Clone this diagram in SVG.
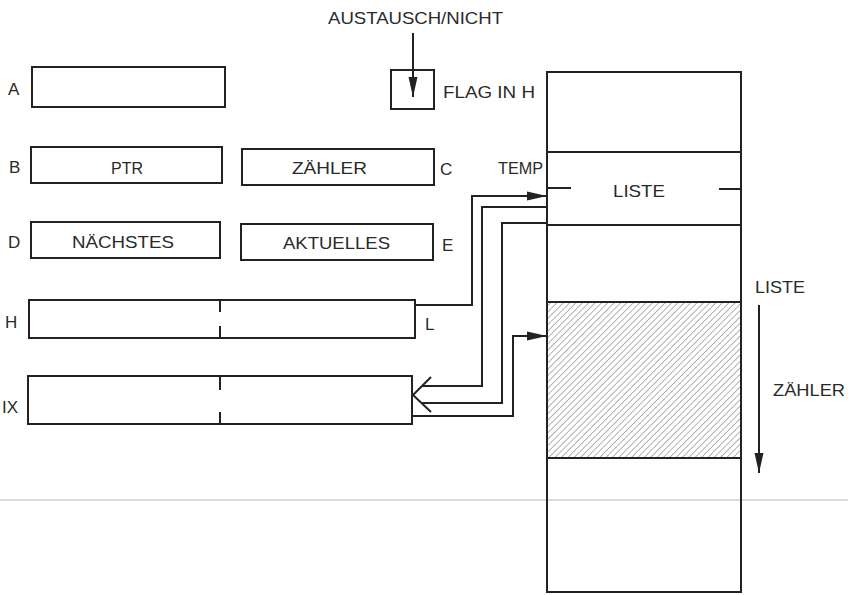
<svg xmlns="http://www.w3.org/2000/svg" width="848" height="595" viewBox="0 0 848 595">
<defs>
<style>
.bx{fill:none;stroke:#222;stroke-width:2}
.ln{fill:none;stroke:#222;stroke-width:2}
.t{font-family:"Liberation Sans",Arial,sans-serif;font-size:17px;fill:#2a2a2a}
</style>
<marker id="ah" markerUnits="userSpaceOnUse" markerWidth="20" markerHeight="10" refX="20" refY="5" orient="auto">
<path d="M0,0.5 L20,5 L0,9.5 z" fill="#222"/>
</marker>
<pattern id="hatch" patternUnits="userSpaceOnUse" width="4.5" height="4.5" patternTransform="rotate(45)">
<line x1="0" y1="0" x2="0" y2="4.5" stroke="#666" stroke-width="1"/>
</pattern>
</defs>
<rect width="848" height="595" fill="#fff"/>
<line x1="0" y1="500" x2="848" y2="500" stroke="#dcdcdc" stroke-width="2"/>

<g id="top-label">
<text class="t" x="328" y="24" textLength="175" lengthAdjust="spacingAndGlyphs">AUSTAUSCH/NICHT</text>
</g>
<g id="flag">
<rect class="bx" x="391" y="70" width="43" height="39"/>
<text class="t" x="443" y="98" textLength="92" lengthAdjust="spacingAndGlyphs">FLAG IN H</text>
</g>
<g id="reg-a">
<text class="t" x="8" y="95">A</text>
<rect class="bx" x="32" y="67" width="193" height="40"/>
</g>
<g id="reg-b">
<text class="t" x="9" y="173">B</text>
<rect class="bx" x="31" y="147" width="191" height="36"/>
<text class="t" x="111" y="174" textLength="32" lengthAdjust="spacingAndGlyphs">PTR</text>
</g>
<g id="reg-c">
<rect class="bx" x="242" y="149" width="192" height="36"/>
<text class="t" x="292" y="174" textLength="75" lengthAdjust="spacingAndGlyphs">ZÄHLER</text>
<text class="t" x="440" y="175">C</text>
</g>
<g id="reg-d">
<text class="t" x="8" y="248">D</text>
<rect class="bx" x="31" y="222" width="189" height="36"/>
<text class="t" x="72" y="248" textLength="102" lengthAdjust="spacingAndGlyphs">NÄCHSTES</text>
</g>
<g id="reg-e">
<rect class="bx" x="241" y="224" width="192" height="36"/>
<text class="t" x="283" y="249" textLength="107" lengthAdjust="spacingAndGlyphs">AKTUELLES</text>
<text class="t" x="442" y="251">E</text>
</g>
<g id="reg-hl">
<text class="t" x="5" y="328">H</text>
<rect class="bx" x="29" y="300" width="386" height="38"/>
<line class="ln" x1="220" y1="300" x2="220" y2="312"/>
<line class="ln" x1="220" y1="326" x2="220" y2="338"/>
<text class="t" x="425" y="330">L</text>
</g>
<g id="reg-ix">
<text class="t" x="2" y="413">IX</text>
<rect class="bx" x="28" y="376" width="384" height="48"/>
<line class="ln" x1="220" y1="376" x2="220" y2="390"/>
<line class="ln" x1="220" y1="412" x2="220" y2="424"/>
</g>
<g id="memory">
<rect x="547" y="302" width="194" height="156" fill="url(#hatch)"/>
<rect class="bx" x="547" y="72" width="194" height="520"/>
<line class="ln" x1="547" y1="152" x2="741" y2="152"/>
<line class="ln" x1="547" y1="225" x2="741" y2="225"/>
<line class="ln" x1="547" y1="302" x2="741" y2="302"/>
<line class="ln" x1="547" y1="458" x2="741" y2="458"/>
<line class="ln" x1="547" y1="188" x2="571" y2="188"/>
<line class="ln" x1="719" y1="189" x2="741" y2="189"/>
<text class="t" x="613" y="197" textLength="52" lengthAdjust="spacingAndGlyphs">LISTE</text>
<text class="t" x="498" y="174" textLength="45" lengthAdjust="spacingAndGlyphs">TEMP</text>
</g>
<g id="range">
<text class="t" x="755" y="293" textLength="50" lengthAdjust="spacingAndGlyphs">LISTE</text>
<text class="t" x="773" y="396" textLength="72" lengthAdjust="spacingAndGlyphs">ZÄHLER</text>
</g>
<g id="connectors">
<line class="ln" x1="413" y1="33" x2="413" y2="97" marker-end="url(#ah)"/>
<line class="ln" x1="759" y1="305" x2="759" y2="473" marker-end="url(#ah)"/>
<path class="ln" d="M415,305 H472 V196 H547" marker-end="url(#ah)"/>
<path class="ln" d="M412,416 H513 V336 H547" marker-end="url(#ah)"/>
<path class="ln" d="M547,207 H482 V386 H422 M547,223 H502 V403 H422 M431,377 L413,395 L431,412"/>
</g>
</svg>
